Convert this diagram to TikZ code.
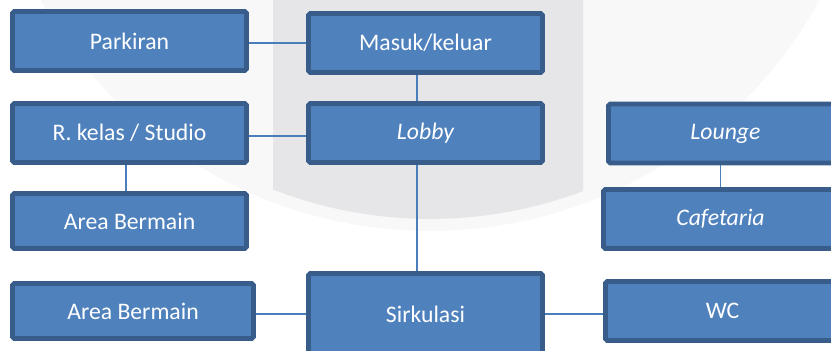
\documentclass[tikz,border=0pt]{standalone}
\usepackage{fontspec}
\setmainfont{Carlito}
\usetikzlibrary{calc}
\definecolor{roomfill}{RGB}{79,129,189}
\definecolor{roomline}{RGB}{56,93,138}
\definecolor{linkcol}{RGB}{74,126,187}
\definecolor{wmlight}{RGB}{248,248,248}
\definecolor{wmdark}{RGB}{230,230,232}
\tikzset{
  room/.style={draw=roomline, fill=roomfill, line width=2.8pt, rounded corners=1pt,
    text=white, font=\fontsize{13.5}{16}\selectfont, inner sep=0pt,
    minimum width=4.68cm, minimum height=1.18cm},
  link/.style={draw=linkcol, line width=1.1pt}
}

\begin{document}
\begin{tikzpicture}[x=0.02cm, y=-0.02cm]
  \useasboundingbox (0,0) rectangle (831,351);
  \clip (0,0) rectangle (831,351);
  %%%%% watermark %%%%%
  \fill[wmlight] (430,-213) circle[radius=8.88cm];
  \begin{scope}
    \clip (273,0) rectangle (583,400);
    \fill[wmdark] (430,-213) circle[radius=8.64cm];
  \end{scope}

  %%%%% rooms %%%%%
  \node[room] (parkir) at (129.5,41) {Parkiran};
  \node[room] (masuk) at (425.5,43) {Masuk/keluar};
  \node[room] (kelas) at (129.5,133) {R. kelas / Studio};
  \node[room] (lobby) at (425.5,133) {\itshape Lobby};
  \node[room] (lounge) at (725.5,133.5) {\itshape Lounge};
  \node[room] (cafe) at (720.5,219) {\itshape Cafetaria};
  \node[room, minimum height=1.1cm] (main1) at (129.5,221) {Area Bermain};
  \node[room, minimum height=1.1cm, minimum width=4.82cm] (main2) at (133,311) {Area Bermain};
  \node[room, minimum height=1.62cm] (sirk) at (425.5,314) {Sirkulasi};
  \node[room] (wc) at (722.5,311) {WC};

  %%%%% links %%%%%
  \draw[link] (masuk.west) -- (masuk.west -| parkir.east);
  \draw[link] ($(masuk.south)+(-8.5,0)$) -- ($(lobby.north)+(-8.5,0)$);
  \draw[link] ($(kelas.east)+(0,3)$) -- ($(lobby.west)+(0,3)$);
  \draw[link] ($(lobby.east)+(0,3)$) -- ($(lobby.east)+(0,3)$ -| lounge.west);
  \draw[link] ($(lobby.south)+(-8.5,0)$) -- ($(sirk.north)+(-8.5,0)$);
  \draw[link] ($(kelas.south)+(-3.5,0)$) -- ($(main1.north)+(-3.5,0)$);
  \draw[link] ($(main1.south)+(-3.5,0)$) -- ($(main1.south)+(-3.5,0)$ |- main2.north);
  \draw[link] (sirk.west) -- (sirk.west -| main2.east);
  \draw[link] (sirk.east) -- (sirk.east -| wc.west);
  \draw[link] (cafe.north) -- (cafe.north |- lounge.south);
\end{tikzpicture}
\end{document}
